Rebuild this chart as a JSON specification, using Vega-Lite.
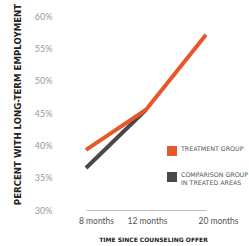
{
  "$schema": "https://vega.github.io/schema/vega-lite/v6.json",
  "width": 194,
  "height": 194,
  "autosize": "none",
  "padding": {"left": 55, "top": 16, "right": 0, "bottom": 36},
  "background": "white",
  "config": {"view": {"stroke": null}},
  "data": {
    "values": [
      {"time": "8 months", "group": "Comparison group in treated areas", "value": 36.5},
      {"time": "12 months", "group": "Comparison group in treated areas", "value": 45.5},
      {"time": "8 months", "group": "Treatment group", "value": 39.3},
      {"time": "12 months", "group": "Treatment group", "value": 45.5},
      {"time": "20 months", "group": "Treatment group", "value": 57.1}
    ]
  },
  "mark": {"type": "line", "strokeWidth": 4, "strokeCap": "butt"},
  "encoding": {
    "x": {
      "field": "time",
      "type": "ordinal",
      "sort": ["8 months", "12 months", "20 months"],
      "scale": {"type": "point", "domain": ["8 months", "12 months", "20 months"], "range": [31, 151], "padding": 0},
      "axis": {
        "title": "TIME SINCE COUNSELING OFFER",
        "titleFont": "DejaVu Sans",
        "titleFontWeight": "bold",
        "titleFontSize": 6,
        "titleColor": "#222222",
        "titlePadding": 12,
        "titleX": 98,
        "labelAngle": 0,
        "labelFont": "Lato",
        "labelFontSize": 8.5,
        "labelColor": "#555555",
        "labelPadding": 6,
        "labelOffset": {"condition": [{"test": "datum.value === '8 months'", "value": 10}, {"test": "datum.value === '20 months'", "value": 12}], "value": 1},
        "ticks": false,
        "domainColor": "#bbbbbb",
        "domainWidth": 1,
        "grid": false
      }
    },
    "y": {
      "field": "value",
      "type": "quantitative",
      "scale": {"domain": [30, 60], "nice": false, "zero": false},
      "axis": {
        "values": [30, 35, 40, 45, 50, 55, 60],
        "labelExpr": "datum.value + '%'",
        "labelFont": "Lato",
        "labelFontSize": 9,
        "labelColor": "#999999",
        "labelPadding": 3,
        "domain": false,
        "ticks": false,
        "grid": false,
        "title": "PERCENT WITH LONG-TERM EMPLOYMENT",
        "titleFont": "DejaVu Sans",
        "titleFontWeight": "bold",
        "titleFontSize": 8.6,
        "titleColor": "#222222",
        "titlePadding": 12,
        "titleY": 88
      }
    },
    "color": {
      "field": "group",
      "type": "nominal",
      "scale": {"domain": ["Treatment group", "Comparison group in treated areas"], "range": ["#e8572b", "#4a4848"]},
      "legend": {
        "orient": "none",
        "legendX": 112,
        "legendY": 130,
        "title": null,
        "symbolType": "square",
        "symbolSize": 25,
        "symbolStrokeWidth": 5,
        "labelFont": "DejaVu Sans",
        "labelFontSize": 6.3,
        "labelColor": "#555555",
        "labelBaseline": "alphabetic",
        "labelOffset": 4,
        "gridAlign": "none",
        "rowPadding": 0,
        "labelExpr": "datum.label === 'Treatment group' ? 'TREATMENT GROUP' : ['COMPARISON GROUP', 'IN TREATED AREAS']"
      }
    }
  }
}
